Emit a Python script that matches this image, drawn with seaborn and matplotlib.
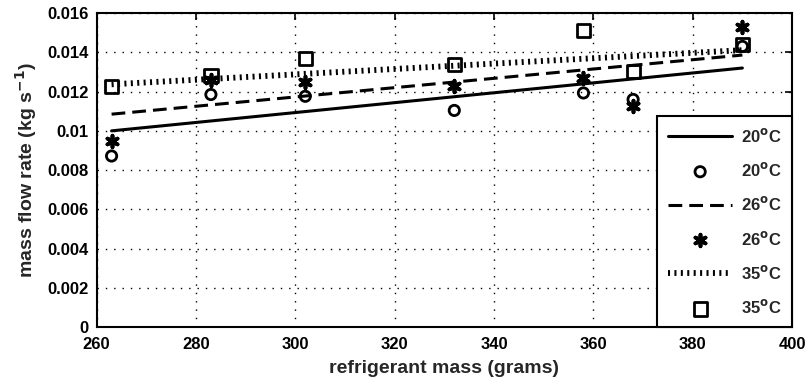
import numpy as np
import pandas as pd
import matplotlib
matplotlib.use("Agg")
import matplotlib.pyplot as plt
import seaborn as sns

# Refrigerant charge (grams) and measured mass flow rate (kg/s) per ambient temperature
charge_g = [263, 283, 302, 332, 358, 368, 390]
flow_20c = [0.00872, 0.01185, 0.01176, 0.01104, 0.01193, 0.0116, 0.0143]
flow_26c = [0.0095, 0.0126, 0.0125, 0.0123, 0.0127, 0.01126, 0.0153]
flow_35c = [0.01227, 0.01283, 0.01367, 0.01337, 0.01509, 0.01303, 0.01438]

# Linear trend lines (end points over the charge range)
fit_charge = [263, 390]
fit_20c = [0.0100, 0.0132]
fit_26c = [0.01085, 0.01386]
fit_35c = [0.01237, 0.01411]

x_ticks = [260, 280, 300, 320, 340, 360, 380, 400]
y_ticks = [0, 0.002, 0.004, 0.006, 0.008, 0.01, 0.012, 0.014, 0.016]
y_tick_labels = ["0", "0.002", "0.004", "0.006", "0.008", "0.01", "0.012", "0.014", "0.016"]

pts = pd.DataFrame({"charge": charge_g, "t20": flow_20c, "t26": flow_26c, "t35": flow_35c})
fits = pd.DataFrame({"charge": fit_charge, "t20": fit_20c, "t26": fit_26c, "t35": fit_35c})

sns.set_style("white")
plt.rcParams["font.family"] = ["Liberation Sans", "DejaVu Sans"]
plt.rcParams["font.weight"] = "bold"
plt.rcParams["mathtext.default"] = "bf"

fig = plt.figure(figsize=(8.05, 3.83), dpi=100)
ax = fig.add_axes([0.1201, 0.1455, 0.8638, 0.8205])

lab20 = r"20$^{\mathrm{\mathbf{o}}}$C"
lab26 = r"26$^{\mathrm{\mathbf{o}}}$C"
lab35 = r"35$^{\mathrm{\mathbf{o}}}$C"

# Trend lines
sns.lineplot(data=fits, x="charge", y="t20", ax=ax, color="black", lw=2.2,
             label=lab20)
sns.lineplot(data=fits, x="charge", y="t26", ax=ax, color="black", lw=2.2,
             linestyle=(0, (4.5, 2.3)), dash_capstyle="butt", label=lab26)
sns.lineplot(data=fits, x="charge", y="t35", ax=ax, color="black", lw=4.2,
             linestyle=(0, (0.35, 0.75)), dash_capstyle="butt", label=lab35)

# Measured points
sns.scatterplot(data=pts, x="charge", y="t20", ax=ax, marker="o", s=55,
                facecolor="none", edgecolor="black", linewidth=2, label=lab20, zorder=4)
sns.scatterplot(data=pts, x="charge", y="t26", ax=ax, marker=(6, 2, 0), s=70,
                color="black", linewidth=2.7, label=lab26, zorder=4)
sns.scatterplot(data=pts, x="charge", y="t35", ax=ax, marker="s", s=90,
                facecolor="none", edgecolor="black", linewidth=2, label=lab35, zorder=4)

ax.set_xlim(260, 400)
ax.set_ylim(0, 0.016)
ax.set_xticks(x_ticks)
ax.set_xticklabels([str(v) for v in x_ticks])
ax.set_yticks(y_ticks)
ax.set_yticklabels(y_tick_labels)
ax.tick_params(direction="in", length=5, width=1.2, top=True, right=True,
               labelsize=12, colors="black")
ax.tick_params(axis="x", pad=7)
ax.tick_params(axis="y", pad=6)
for lbl in ax.get_xticklabels() + ax.get_yticklabels():
    lbl.set_fontweight("bold")

ax.grid(True, color="black", linestyle=(0, (1, 5)), linewidth=1.0)
ax.set_axisbelow(True)
for sp in ax.spines.values():
    sp.set_color("black")
    sp.set_linewidth(1.5)

ax.set_xlabel("refrigerant mass (grams)", fontsize=14, fontweight="bold", labelpad=6)
ax.set_ylabel(r"mass flow rate (kg s$^{\mathbf{-1}}$)", fontsize=14, fontweight="bold", labelpad=6)

handles, labels = ax.get_legend_handles_labels()
lines = [h for h in handles if isinstance(h, matplotlib.lines.Line2D)]
points = [h for h in handles if not isinstance(h, matplotlib.lines.Line2D)]
order_h = [lines[0], points[0], lines[1], points[1], lines[2], points[2]]
order_l = [lab20, lab20, lab26, lab26, lab35, lab35]
leg = ax.legend(order_h, order_l, loc="lower right", borderaxespad=0,
                frameon=True, fancybox=False, framealpha=1, edgecolor="black",
                labelspacing=0.98, handlelength=3.85, handletextpad=0.5,
                borderpad=0.65, prop=dict(weight="bold", size=12))
leg.get_frame().set_linewidth(1.5)

fig.savefig("out.png", dpi=100)
